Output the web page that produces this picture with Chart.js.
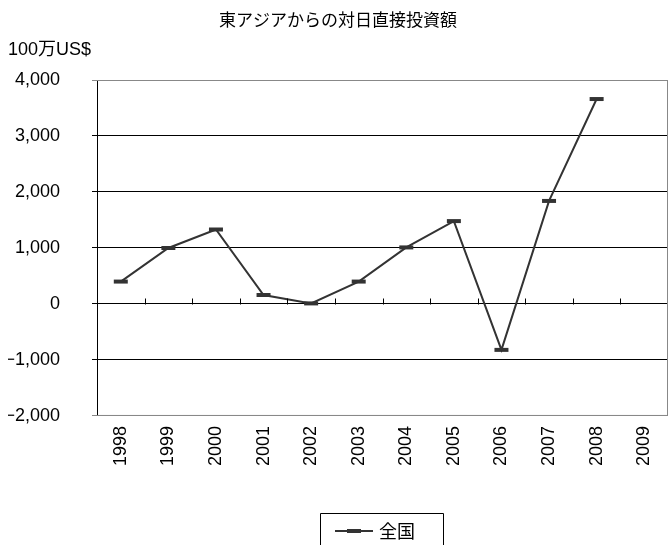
<!DOCTYPE html>
<html>
<head>
<meta charset="utf-8">
<script src="https://cdn.jsdelivr.net/npm/chart.js@4"></script>
<style>
  html, body { margin: 0; padding: 0; background: #fff; }
  #wrap { width: 671px; height: 545px; }
</style>
</head>
<body>
<div id="wrap"><canvas id="chart"></canvas></div>
<script>
// data
const years = ['1998', '1999', '2000', '2001', '2002', '2003', '2004', '2005', '2006', '2007', '2008', '2009'];
const zenkoku = [400, 1000, 1330, 160, 10, 400, 1010, 1480, -820, 1840, 3660, null];
const yTicks = [-2000, -1000, 0, 1000, 2000, 3000, 4000];

const fontFamily = "'Liberation Sans', 'Noto Sans CJK JP', sans-serif";
const lineColor = '#333333';

// frame, zero-line ticks and boxed legend
const decorations = {
    id: 'decorations',
    afterDatasetsDraw(chart) {
        const { ctx, chartArea, scales } = chart;
        const x = scales.x, y = scales.y;
        ctx.save();
        // grey frame on top / right / bottom
        ctx.strokeStyle = '#888888';
        ctx.lineWidth = 1;
        ctx.beginPath();
        ctx.moveTo(chartArea.left, chartArea.top + 0.5);
        ctx.lineTo(chartArea.right - 0.5, chartArea.top + 0.5);
        ctx.lineTo(chartArea.right - 0.5, chartArea.bottom - 0.5);
        ctx.lineTo(chartArea.left, chartArea.bottom - 0.5);
        ctx.stroke();
        // small ticks upward from the zero line, between categories
        const y0 = Math.round(y.getPixelForValue(0)) + 0.5;
        ctx.strokeStyle = '#000000';
        ctx.beginPath();
        for (let i = 1; i < years.length; i++) {
            const px = Math.round((x.getPixelForTick(i - 1) + x.getPixelForTick(i)) / 2) + 0.5;
            ctx.moveTo(px, y0);
            ctx.lineTo(px, y0 - 6);
        }
        ctx.stroke();
        ctx.restore();
    },
    afterDraw(chart) {
        const { ctx } = chart;
        ctx.save();
        // legend box (runs off the bottom edge like the original)
        ctx.strokeStyle = '#000000';
        ctx.lineWidth = 1;
        ctx.beginPath();
        ctx.moveTo(320.5, 550);
        ctx.lineTo(320.5, 513.5);
        ctx.lineTo(443.5, 513.5);
        ctx.lineTo(443.5, 550);
        ctx.stroke();
        // sample line with dash marker
        ctx.strokeStyle = lineColor;
        ctx.lineWidth = 2;
        ctx.beginPath();
        ctx.moveTo(335, 531);
        ctx.lineTo(373, 531);
        ctx.stroke();
        ctx.lineWidth = 4;
        ctx.beginPath();
        ctx.moveTo(347, 531);
        ctx.lineTo(361, 531);
        ctx.stroke();
        ctx.fillStyle = '#000000';
        ctx.font = "18px 'Noto Sans CJK JP', sans-serif";
        ctx.textBaseline = 'middle';
        ctx.fillText('全国', 379, 531);
        ctx.restore();
    }
};

new Chart(document.getElementById('chart'), {
    type: 'line',
    data: {
        labels: years,
        datasets: [{
            label: '全国',
            data: zenkoku,
            borderColor: lineColor,
            borderWidth: 2,
            tension: 0,
            spanGaps: false,
            pointStyle: 'line',
            pointRadius: 7,
            pointHoverRadius: 7,
            pointBorderWidth: 4,
            pointBorderColor: lineColor,
            pointBackgroundColor: lineColor
        }]
    },
    options: {
        responsive: true,
        maintainAspectRatio: false,
        animation: false,
        layout: {
            autoPadding: false,
            padding: { left: 8, right: 3, top: 0, bottom: 77 }
        },
        plugins: {
            legend: { display: false },
            tooltip: { enabled: false },
            title: {
                display: true,
                text: '東アジアからの対日直接投資額',
                color: '#000000',
                font: { family: "'Noto Sans CJK JP', sans-serif", size: 17, weight: 'normal' },
                padding: { top: 9, bottom: 6 }
            },
            subtitle: {
                display: true,
                text: '100万US$',
                align: 'start',
                color: '#000000',
                font: { family: fontFamily, size: 18, weight: 'normal' },
                padding: { top: 4, bottom: 19 }
            }
        },
        scales: {
            x: {
                offset: true,
                grid: { display: false },
                border: { display: false },
                ticks: {
                    color: '#000000',
                    font: { family: fontFamily, size: 18 },
                    minRotation: 90,
                    maxRotation: 90,
                    padding: 2,
                    autoSkip: false
                }
            },
            y: {
                min: -2000,
                max: 4000,
                afterBuildTicks(scale) {
                    scale.ticks = yTicks.map(v => ({ value: v }));
                },
                afterFit(scale) {
                    scale.width = 89;
                },
                grid: {
                    color: ctx => (ctx.tick && (ctx.tick.value === 4000 || ctx.tick.value === -2000)) ? '#888888' : '#000000',
                    lineWidth: 1,
                    tickLength: 5,
                    drawTicks: true
                },
                border: { display: true, color: '#000000', width: 1 },
                ticks: {
                    color: '#000000',
                    font: { family: fontFamily, size: 18 },
                    padding: 32,
                    callback: v => (v < 0 ? '\u2212' : '') + Math.abs(v).toLocaleString('en-US')
                }
            }
        }
    },
    plugins: [decorations]
});
</script>
</body>
</html>
